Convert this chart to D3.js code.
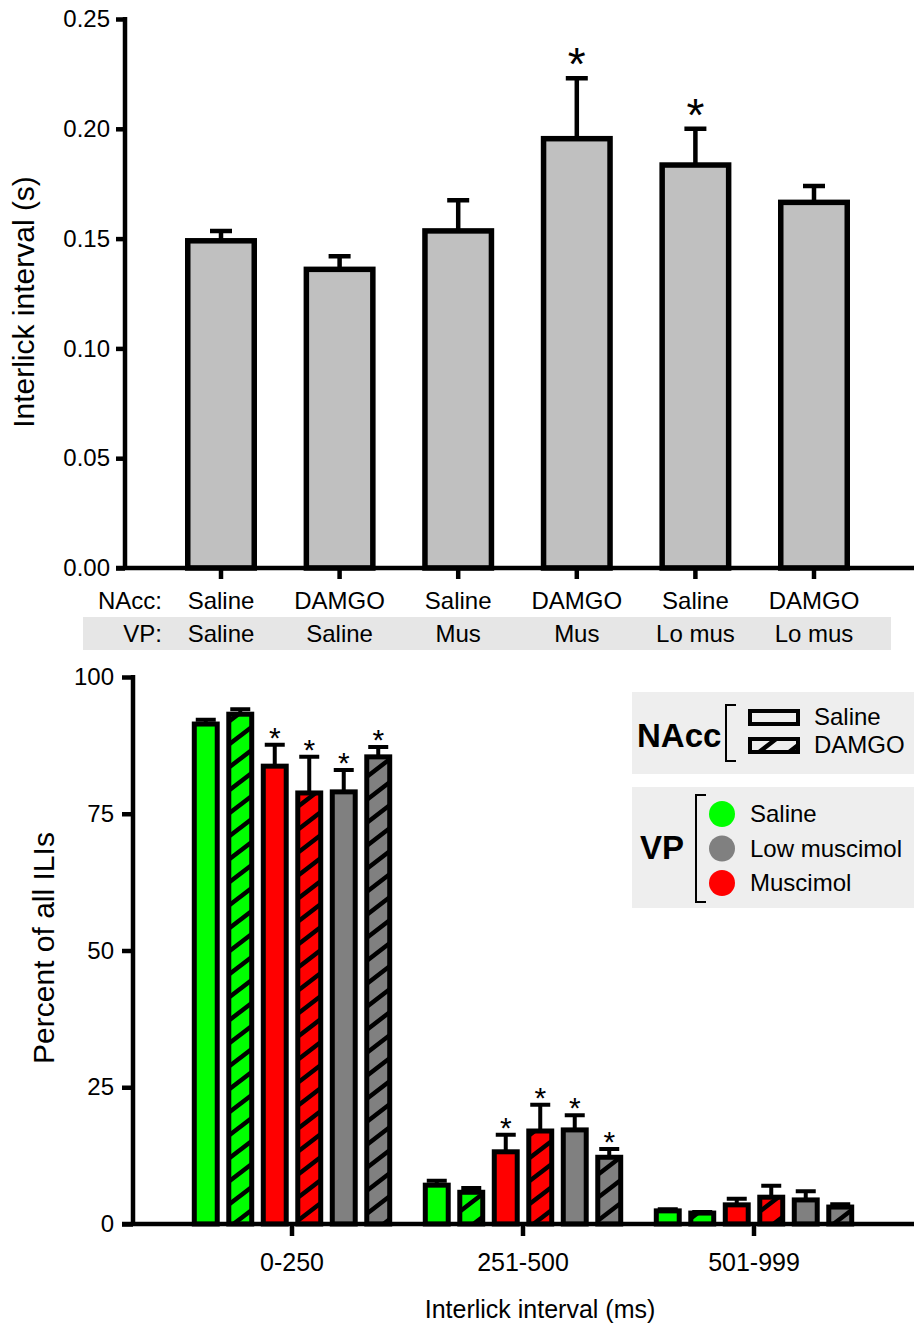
<!DOCTYPE html>
<html>
<head>
<meta charset="utf-8">
<script src="https://cdn.jsdelivr.net/npm/d3@7"></script>
<style>
  body { margin: 0; background: #fff; }
  svg { display: block; font-family: "Liberation Sans", Arial, sans-serif; }
</style>
</head>
<body>
<svg id="chart" width="914" height="1323"></svg>
<script>
// top panel: mean interlick interval per treatment
var nacc = ["Saline", "DAMGO", "Saline", "DAMGO", "Saline", "DAMGO"];
var vp = ["Saline", "Saline", "Mus", "Mus", "Lo mus", "Lo mus"];
var iliMean = [0.149, 0.136, 0.1535, 0.1955, 0.1835, 0.1665];
var iliErr = [0.0045, 0.006, 0.014, 0.0275, 0.0165, 0.0075];
var iliStar = [false, false, false, true, true, false];
var iliTicks = [0, 0.05, 0.10, 0.15, 0.20, 0.25];

// bottom panel: percent of ILIs per bin
var bins = ["0-250", "251-500", "501-999"];
var condNAcc = ["Saline", "DAMGO", "Saline", "DAMGO", "Saline", "DAMGO"];
var condVP = ["Saline", "Saline", "Muscimol", "Muscimol", "Low muscimol", "Low muscimol"];
var pct0_250 = [91.4, 93.2, 83.7, 78.8, 79.0, 85.4];
var err0_250 = [0.8, 0.9, 3.9, 6.6, 4.0, 1.8];
var star0_250 = [false, false, true, true, true, true];
var pct251_500 = [7.1, 5.8, 13.2, 17.0, 17.2, 12.2];
var err251_500 = [0.8, 0.8, 3.1, 4.8, 2.7, 1.5];
var star251_500 = [false, false, true, true, true, true];
var pct501_999 = [2.4, 2.0, 3.5, 4.9, 4.4, 3.1];
var err501_999 = [0.3, 0.2, 1.1, 2.1, 1.6, 0.5];
var star501_999 = [false, false, false, false, false, false];
var pctTicks = [0, 25, 50, 75, 100];

var naccLegend = ["Saline", "DAMGO"];
var vpLegend = ["Saline", "Low muscimol", "Muscimol"];
var vpColor = { "Saline": "#00ff00", "Low muscimol": "#808080", "Muscimol": "#ff0000" };

var svg = d3.select("#chart");

// hatch pattern (lines only, laid over the fill)
var pw = 30, ph = 23;
svg.append("defs").append("pattern")
    .attr("id", "hatch")
    .attr("patternUnits", "userSpaceOnUse")
    .attr("width", pw).attr("height", ph)
  .append("path")
    .attr("d", "M0," + ph + "L" + pw + ",0" +
               "M" + (-pw / 4) + "," + (ph / 4) + "L" + (pw / 4) + "," + (-ph / 4) +
               "M" + (3 * pw / 4) + "," + (5 * ph / 4) + "L" + (5 * pw / 4) + "," + (3 * ph / 4))
    .attr("stroke", "#000")
    .attr("stroke-width", 4.5);

/* ---------------- top panel ---------------- */
var topData = iliMean.map(function(m, i) {
    return { i: i, mean: m, err: iliErr[i], star: iliStar[i] };
});

var xTop = d3.scaleBand()
    .domain(d3.range(iliMean.length))
    .range([161.7, 873.3])
    .paddingInner(0.393)
    .paddingOuter(0.1965);

var yTop = d3.scaleLinear().domain([0, 0.25]).range([568, 19]);

var gTop = svg.append("g");
var sw = 5.5;

gTop.selectAll("rect.bar")
    .data(topData)
    .enter().append("rect")
    .attr("class", "bar")
    .attr("x", function(d) { return xTop(d.i) + sw / 2; })
    .attr("width", xTop.bandwidth() - sw)
    .attr("y", function(d) { return yTop(d.mean); })
    .attr("height", function(d) { return yTop(0) - yTop(d.mean); })
    .attr("fill", "#c0c0c0")
    .attr("stroke", "#000")
    .attr("stroke-width", sw);

gTop.selectAll("path.err")
    .data(topData)
    .enter().append("path")
    .attr("class", "err")
    .attr("d", function(d) {
        var cx = xTop(d.i) + xTop.bandwidth() / 2;
        var y0 = yTop(d.mean), y1 = yTop(d.mean + d.err);
        return "M" + cx + "," + y0 + "V" + y1 + "M" + (cx - 11) + "," + y1 + "H" + (cx + 11);
    })
    .attr("fill", "none")
    .attr("stroke", "#000")
    .attr("stroke-width", 4.5);

gTop.selectAll("text.star")
    .data(topData.filter(function(d) { return d.star; }))
    .enter().append("text")
    .attr("class", "star")
    .attr("x", function(d) { return xTop(d.i) + xTop.bandwidth() / 2; })
    .attr("y", function(d) { return yTop(d.mean + d.err) + 2; })
    .attr("text-anchor", "middle")
    .attr("font-size", 46)
    .text("*");

// axes
var yAxisTop = gTop.append("g")
    .attr("transform", "translate(125,0)")
    .call(d3.axisLeft(yTop).tickValues(iliTicks).tickFormat(d3.format(".2f")).tickSize(9).tickPadding(6));
yAxisTop.select(".domain").remove();
yAxisTop.append("line").attr("x1", 0).attr("x2", 0).attr("y1", yTop(0.25) - 2).attr("y2", yTop(0))
    .attr("stroke", "#000").attr("stroke-width", 4.5);
yAxisTop.selectAll(".tick line").attr("stroke-width", 4.5);
yAxisTop.selectAll(".tick text").attr("font-size", 24).attr("fill", "#000")
    .style("font-family", "'Liberation Sans', Arial, sans-serif");

var xAxisTop = gTop.append("g")
    .attr("transform", "translate(0,568)")
    .call(d3.axisBottom(xTop).tickSize(11).tickFormat(""));
xAxisTop.select(".domain").remove();
xAxisTop.selectAll(".tick line").attr("stroke-width", 4.5);
xAxisTop.append("line").attr("x1", 116).attr("x2", 914).attr("y1", 0).attr("y2", 0)
    .attr("stroke", "#000").attr("stroke-width", 4.5);

// treatment rows
gTop.append("rect")
    .attr("x", 83).attr("y", 617).attr("width", 808).attr("height", 33)
    .attr("fill", "#e6e6e6");

gTop.append("text").attr("x", 162).attr("y", 609).attr("text-anchor", "end")
    .attr("font-size", 24).text("NAcc:");
gTop.append("text").attr("x", 162).attr("y", 642).attr("text-anchor", "end")
    .attr("font-size", 24).text("VP:");

gTop.selectAll("text.nacc")
    .data(nacc)
    .enter().append("text")
    .attr("class", "nacc")
    .attr("x", function(d, i) { return xTop(i) + xTop.bandwidth() / 2; })
    .attr("y", 609)
    .attr("text-anchor", "middle")
    .attr("font-size", 24)
    .text(function(d) { return d; });

gTop.selectAll("text.vp")
    .data(vp)
    .enter().append("text")
    .attr("class", "vp")
    .attr("x", function(d, i) { return xTop(i) + xTop.bandwidth() / 2; })
    .attr("y", 642)
    .attr("text-anchor", "middle")
    .attr("font-size", 24)
    .text(function(d) { return d; });

gTop.append("text")
    .attr("transform", "translate(34,302) rotate(-90)")
    .attr("text-anchor", "middle")
    .attr("font-size", 30)
    .text("Interlick interval (s)");

/* ---------------- bottom panel ---------------- */
var pctMeans = [pct0_250, pct251_500, pct501_999];
var pctErrs = [err0_250, err251_500, err501_999];
var pctStars = [star0_250, star251_500, star501_999];

var bottomData = [];
bins.forEach(function(b, g) {
    condNAcc.forEach(function(n, k) {
        bottomData.push({
            bin: b, k: k, nacc: n, vp: condVP[k],
            mean: pctMeans[g][k], err: pctErrs[g][k], star: pctStars[g][k]
        });
    });
});

var x0 = d3.scaleBand()
    .domain(bins)
    .range([176.5, 869.5])
    .paddingInner(0.104)
    .paddingOuter(0.052);

var x1 = d3.scaleBand()
    .domain(d3.range(condNAcc.length))
    .range([0, x0.bandwidth()])
    .paddingInner(0.19)
    .paddingOuter(0.095);

var yBot = d3.scaleLinear().domain([0, 100]).range([1224, 677]);

var gBot = svg.append("g");
var sw2 = 5;

function barX(d) { return x0(d.bin) + x1(d.k); }

gBot.selectAll("rect.fill")
    .data(bottomData)
    .enter().append("rect")
    .attr("class", "fill")
    .attr("x", function(d) { return barX(d) + sw2 / 2; })
    .attr("width", x1.bandwidth() - sw2)
    .attr("y", function(d) { return yBot(d.mean); })
    .attr("height", function(d) { return yBot(0) - yBot(d.mean); })
    .attr("fill", function(d) { return vpColor[d.vp]; });

gBot.selectAll("rect.hatch")
    .data(bottomData.filter(function(d) { return d.nacc === "DAMGO"; }))
    .enter().append("rect")
    .attr("class", "hatch")
    .attr("x", function(d) { return barX(d) + sw2 / 2; })
    .attr("width", x1.bandwidth() - sw2)
    .attr("y", function(d) { return yBot(d.mean); })
    .attr("height", function(d) { return yBot(0) - yBot(d.mean); })
    .attr("fill", "url(#hatch)");

gBot.selectAll("rect.edge")
    .data(bottomData)
    .enter().append("rect")
    .attr("class", "edge")
    .attr("x", function(d) { return barX(d) + sw2 / 2; })
    .attr("width", x1.bandwidth() - sw2)
    .attr("y", function(d) { return yBot(d.mean); })
    .attr("height", function(d) { return yBot(0) - yBot(d.mean); })
    .attr("fill", "none")
    .attr("stroke", "#000")
    .attr("stroke-width", sw2);

gBot.selectAll("path.err")
    .data(bottomData)
    .enter().append("path")
    .attr("class", "err")
    .attr("d", function(d) {
        var cx = barX(d) + x1.bandwidth() / 2;
        var y0 = yBot(d.mean), y1 = yBot(d.mean + d.err);
        return "M" + cx + "," + y0 + "V" + y1 + "M" + (cx - 10) + "," + y1 + "H" + (cx + 10);
    })
    .attr("fill", "none")
    .attr("stroke", "#000")
    .attr("stroke-width", 4);

gBot.selectAll("text.star")
    .data(bottomData.filter(function(d) { return d.star; }))
    .enter().append("text")
    .attr("class", "star")
    .attr("x", function(d) { return barX(d) + x1.bandwidth() / 2; })
    .attr("y", function(d) { return yBot(d.mean + d.err) + 3; })
    .attr("text-anchor", "middle")
    .attr("font-size", 30)
    .text("*");

var yAxisBot = gBot.append("g")
    .attr("transform", "translate(133,0)")
    .call(d3.axisLeft(yBot).tickValues(pctTicks).tickSize(11).tickPadding(8));
yAxisBot.select(".domain").remove();
yAxisBot.append("line").attr("x1", 0).attr("x2", 0).attr("y1", yBot(100) - 2).attr("y2", yBot(0))
    .attr("stroke", "#000").attr("stroke-width", 4.5);
yAxisBot.selectAll(".tick line").attr("stroke-width", 4.5);
yAxisBot.selectAll(".tick text").attr("font-size", 24).attr("fill", "#000")
    .style("font-family", "'Liberation Sans', Arial, sans-serif");

var xAxisBot = gBot.append("g")
    .attr("transform", "translate(0,1224)")
    .call(d3.axisBottom(x0).tickSize(12).tickPadding(17));
xAxisBot.select(".domain").remove();
xAxisBot.selectAll(".tick line").attr("stroke-width", 4.5);
xAxisBot.selectAll(".tick text").attr("font-size", 25).attr("fill", "#000")
    .style("font-family", "'Liberation Sans', Arial, sans-serif");
xAxisBot.append("line").attr("x1", 122).attr("x2", 914).attr("y1", 0).attr("y2", 0)
    .attr("stroke", "#000").attr("stroke-width", 4.5);

gBot.append("text")
    .attr("transform", "translate(54,948) rotate(-90)")
    .attr("text-anchor", "middle")
    .attr("font-size", 30)
    .text("Percent of all ILIs");

gBot.append("text")
    .attr("x", 540).attr("y", 1318)
    .attr("text-anchor", "middle")
    .attr("font-size", 25)
    .text("Interlick interval (ms)");

/* ---------------- legends ---------------- */
var lg = svg.append("g");
lg.append("rect").attr("x", 632).attr("y", 692).attr("width", 290).attr("height", 82).attr("fill", "#eeeeee");
lg.append("rect").attr("x", 632).attr("y", 787).attr("width", 290).attr("height", 121).attr("fill", "#eeeeee");

lg.append("text").attr("x", 637).attr("y", 747).attr("font-size", 33).attr("font-weight", "bold").text("NAcc");
lg.append("path").attr("d", "M736,705H726V761H736").attr("fill", "none").attr("stroke", "#000").attr("stroke-width", 2);

var naccY = d3.scalePoint().domain(naccLegend).range([717, 745]);
naccLegend.forEach(function(n) {
    var yy = naccY(n);
    lg.append("rect").attr("x", 750).attr("y", yy - 6).attr("width", 48).attr("height", 13)
        .attr("fill", "#eeeeee");
    if (n === "DAMGO") {
        lg.append("rect").attr("x", 750).attr("y", yy - 6).attr("width", 48).attr("height", 13)
            .attr("fill", "url(#hatch)");
    }
    lg.append("rect").attr("x", 750).attr("y", yy - 6).attr("width", 48).attr("height", 13)
        .attr("fill", "none").attr("stroke", "#000").attr("stroke-width", 4);
    lg.append("text").attr("x", 814).attr("y", yy + 8).attr("font-size", 24).text(n);
});

lg.append("text").attr("x", 640).attr("y", 859).attr("font-size", 33).attr("font-weight", "bold").text("VP");
lg.append("path").attr("d", "M706,795H696V902H706").attr("fill", "none").attr("stroke", "#000").attr("stroke-width", 2);

var vpY = d3.scalePoint().domain(vpLegend).range([814, 883]);
vpLegend.forEach(function(v) {
    var yy = vpY(v);
    lg.append("circle").attr("cx", 722).attr("cy", yy).attr("r", 13).attr("fill", vpColor[v]);
    lg.append("text").attr("x", 750).attr("y", yy + 8).attr("font-size", 24).text(v);
});
</script>
</body>
</html>
